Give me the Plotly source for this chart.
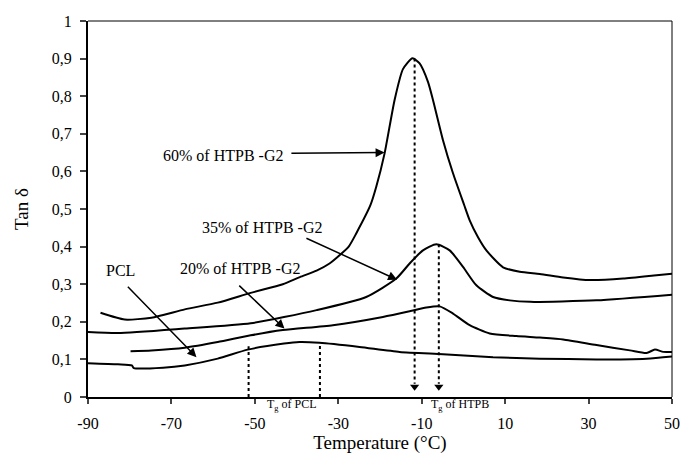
import plotly.graph_objects as go

# ---- data ----
t60 = [-87, -81.2, -74.8, -66.8, -58.9, -51, -43.3, -39.2, -35.2, -32.1, -29.7, -27.5, -25.7, -22.3, -20.9, -18.9,
       -16.5, -14.5, -12.2, -10.5, -8.5, -7.3, -4.9, -2.5, 0.2, 1.5, 3.5, 5.5, 9.5, 13.5, 18.3, 23.9, 30.3, 38.3,
       46.3, 50]
v60 = [0.224, 0.206, 0.211, 0.233, 0.251, 0.277, 0.300, 0.319, 0.336, 0.355, 0.377, 0.40, 0.435, 0.51, 0.559, 0.648,
       0.79, 0.872, 0.901, 0.887, 0.838, 0.79, 0.683, 0.595, 0.51, 0.47, 0.425, 0.39, 0.345, 0.333, 0.327, 0.318,
       0.311, 0.315, 0.324, 0.328]

t35 = [-90, -82.8, -66.8, -51, -35.2, -23.3, -16.1, -12.9, -9.7, -6.5, -3.3, -0.1, 3.1, 7.1, 11.1, 16, 31.9, 50]
v35 = [0.173, 0.170, 0.182, 0.196, 0.231, 0.266, 0.315, 0.355, 0.39, 0.406, 0.39, 0.346, 0.297, 0.266, 0.257, 0.253,
       0.257, 0.272]

t20 = [-79.8, -74.8, -66.8, -58.9, -51, -43.3, -31.3, -19.3, -12.9, -8.9, -5.7, -2.5, 1.5, 6.3, 12.7, 18.3, 23.9,
       31.9, 39.9, 43.9, 45.9, 47.9, 50]
v20 = [0.122, 0.124, 0.131, 0.146, 0.164, 0.178, 0.191, 0.213, 0.228, 0.238, 0.241, 0.222, 0.191, 0.169, 0.162, 0.158,
       0.153, 0.138, 0.124, 0.117, 0.126, 0.12, 0.12]

tpcl = [-90, -82.8, -79.5, -79, -72, -66.8, -58.9, -51.7, -43, -39.3, -34.5, -24.9, -15.3, -4.9, 7.1, 18.3, 31.9,
        43.9, 50]
vpcl = [0.090, 0.087, 0.084, 0.077, 0.078, 0.084, 0.102, 0.126, 0.142, 0.146, 0.144, 0.133, 0.12, 0.114, 0.106,
        0.102, 0.1, 0.102, 0.108]

tg_pcl_t = [-51.5, -34.4]
tg_pcl_v = [0.135, 0.143]
tg_htpb_t = [-11.7, -5.9]
tg_htpb_v = [0.9, 0.406]

x_ticks = [-90, -70, -50, -30, -10, 10, 30, 50]
x_ticktext = ["-90", "-70", "-50", "-30", "-10", "10", "30", "50"]
y_ticks = [0, 0.1, 0.2, 0.3, 0.4, 0.5, 0.6, 0.7, 0.8, 0.9, 1]
y_ticktext = ["0", "0,1", "0,2", "0,3", "0,4", "0,5", "0,6", "0,7", "0,8", "0,9", "1"]

labels = ["60% of HTPB -G2", "35% of HTPB -G2", "20% of HTPB -G2", "PCL"]
label_pos = [(-57.7, 0.641), (-48.3, 0.452), (-53.5, 0.342), (-82.2, 0.337)]
arrow_tail = [(-41.6, 0.648), (-38.0, 0.424), (-54.1, 0.30), (-80.8, 0.297)]
arrow_head = [(-18.9, 0.65), (-15.9, 0.312), (-42.9, 0.182), (-64.0, 0.106)]

tg_labels = ["T<sub>g</sub> of PCL", "T<sub>g</sub> of HTPB"]
tg_label_t = [-41, -0.9]

FONT = "Liberation Serif"

fig = go.Figure()
for t, v in [(t60, v60), (t35, v35), (t20, v20), (tpcl, vpcl)]:
    fig.add_trace(go.Scatter(x=t, y=v, mode="lines", line=dict(color="black", width=2, shape="spline", smoothing=0.6),
                             showlegend=False, hoverinfo="skip"))

# dotted Tg lines for PCL
for t, v in zip(tg_pcl_t, tg_pcl_v):
    fig.add_trace(go.Scatter(x=[t, t], y=[0, v], mode="lines", line=dict(color="black", width=2, dash="dot"),
                             showlegend=False, hoverinfo="skip"))
# dotted Tg arrows for HTPB
for t, v in zip(tg_htpb_t, tg_htpb_v):
    fig.add_trace(go.Scatter(x=[t, t], y=[v, 0.035], mode="lines", line=dict(color="black", width=2, dash="dot"),
                             showlegend=False, hoverinfo="skip"))
    fig.add_trace(go.Scatter(x=[t], y=[0.027], mode="markers",
                             marker=dict(symbol="triangle-down", size=8, color="black"),
                             showlegend=False, hoverinfo="skip"))

for lab, (lx, ly), (tx, ty), (hx, hy) in zip(labels, label_pos, arrow_tail, arrow_head):
    fig.add_annotation(x=lx, y=ly, text=lab, showarrow=False, font=dict(family=FONT, size=16, color="black"))
    fig.add_annotation(x=hx, y=hy, ax=tx, ay=ty, axref="x", ayref="y", text="", showarrow=True,
                       arrowhead=2, arrowsize=1.2, arrowwidth=1.5, arrowcolor="black")

for lab, t in zip(tg_labels, tg_label_t):
    fig.add_annotation(x=t, xref="x", y=-0.02, yref="paper", text=lab, showarrow=False,
                       xanchor="center", yanchor="middle",
                       font=dict(family=FONT, size=12, color="black"))

# thin top and right border
fig.add_shape(type="line", xref="paper", yref="paper", x0=0, x1=1, y0=1, y1=1, line=dict(color="black", width=1))
fig.add_shape(type="line", xref="paper", yref="paper", x0=1, x1=1, y0=0, y1=1, line=dict(color="black", width=1))

fig.update_layout(
    width=683, height=455,
    margin=dict(l=88, r=11, t=21, b=58),
    plot_bgcolor="white", paper_bgcolor="white",
    font=dict(family=FONT, size=15, color="black"),
    xaxis=dict(range=[-90, 50], tickvals=x_ticks, ticktext=x_ticktext, ticks="outside", ticklen=5, tickwidth=1.5,
               showline=True, linewidth=2, linecolor="black", showgrid=False, zeroline=False,
               ticklabelstandoff=6, automargin=False,
               title=dict(text="Temperature (°C)", font=dict(family=FONT, size=19), standoff=4),
               tickfont=dict(family=FONT, size=16)),
    yaxis=dict(range=[0, 1], tickvals=y_ticks, ticktext=y_ticktext, ticks="outside", ticklen=6, tickwidth=1.5,
               showline=True, linewidth=2, linecolor="black", showgrid=False, zeroline=False,
               ticklabelstandoff=5, automargin=False,
               title=dict(text="Tan δ", font=dict(family=FONT, size=19), standoff=18),
               tickfont=dict(family=FONT, size=16)),
)

fig.write_html("out.html")
